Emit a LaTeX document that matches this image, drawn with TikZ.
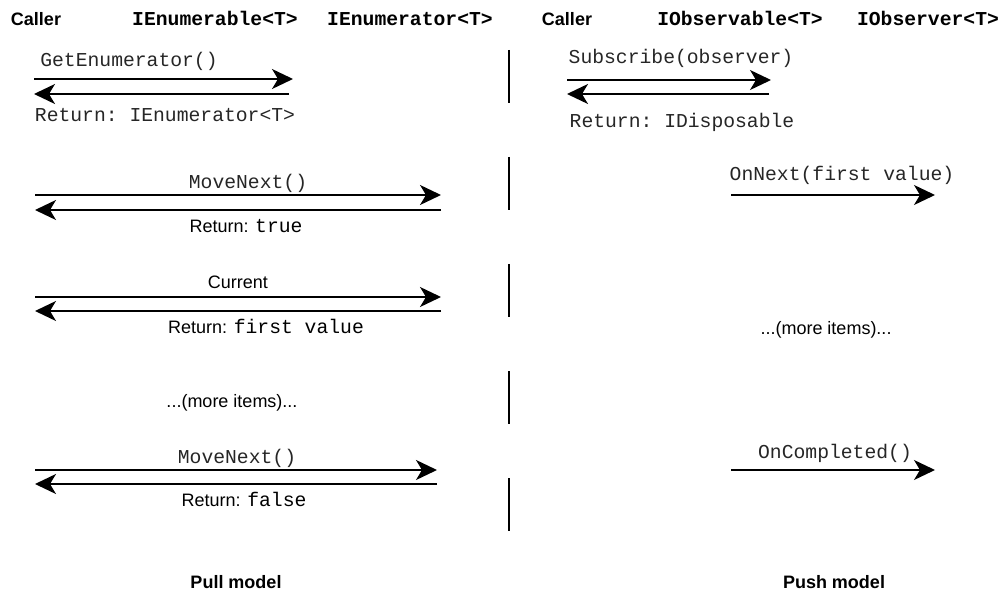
\documentclass[tikz,border=0pt]{standalone}
\usepackage{fontspec}
\setmainfont{Liberation Sans}
\setsansfont{Liberation Sans}
\setmonofont{Liberation Mono}
\usepackage{tikz}
\usetikzlibrary{arrows.meta, positioning}

\newcommand{\cd}[1]{{\fontsize{19.7}{22}\selectfont\ttfamily #1}}

\begin{document}
\begin{tikzpicture}[
    x=1pt, y=-1pt,
    head/.style={font=\fontsize{18}{21}\selectfont\bfseries, anchor=mid, inner sep=0pt, yshift=-4pt},
    headcode/.style={font=\fontsize{19.7}{22}\selectfont\ttfamily\bfseries, anchor=mid, inner sep=0pt, yshift=-4pt},
    lbl/.style={font=\fontsize{18}{21}\selectfont, anchor=mid, inner sep=0pt, yshift=-4pt},
    code/.style={font=\fontsize{19.7}{22}\selectfont\ttfamily, text=black!85, anchor=mid, inner sep=0pt, yshift=-4pt},
    arr/.style={-{Stealth[length=21pt, width=20pt, inset=6pt]}, line width=1.8pt},
    divider/.style={line width=1.3pt, dash pattern=on 53pt off 54pt},
]
\useasboundingbox (0,0) rectangle (1007,596);

% Pull model
\node[head] (caller1) at (36,19) {Caller};
\node[headcode] (enumerable) at (215,19) {IEnumerable<T>};
\node[headcode] (enumerator) at (410,19) {IEnumerator<T>};

\node[code] (getenum) at (129,60) {GetEnumerator()};
\coordinate (ge-a) at (34,79);
\coordinate (ge-b) at (293,79);
\draw[arr] (ge-a) -- (ge-b);
\draw[arr] ([xshift=-4pt, yshift=-15pt]ge-b) -- ([yshift=-15pt]ge-a);
\node[code] (ret1) at (165,115) {Return: IEnumerator<T>};

\node[code] (next1) at (248,182) {MoveNext()};
\coordinate (mn1-a) at (35,195);
\coordinate (mn1-b) at (441,195);
\draw[arr] (mn1-a) -- (mn1-b);
\draw[arr] ([yshift=-15pt]mn1-b) -- ([yshift=-15pt]mn1-a);
\node[lbl] (ret2) at (246,226) {Return: \cd{true}};

\node[lbl] (current) at (238,282) {Current};
\coordinate (cur-a) at (35,297);
\coordinate (cur-b) at (441,297);
\draw[arr] (cur-a) -- (cur-b);
\draw[arr] ([yshift=-14pt]cur-b) -- ([yshift=-14pt]cur-a);
\node[lbl] (ret3) at (266,327) {Return: \cd{first value}};

\node[lbl] (more1) at (232,401) {...(more items)...};

\node[code] (next2) at (237,457) {MoveNext()};
\coordinate (mn2-a) at (35,470);
\coordinate (mn2-b) at (437,470);
\draw[arr] (mn2-a) -- (mn2-b);
\draw[arr] ([yshift=-14pt]mn2-b) -- ([yshift=-14pt]mn2-a);
\node[lbl] (ret4) at (244,500) {Return: \cd{false}};

\node[head] (pull) at (236,582) {Pull model};

% Divider
\coordinate (div-top) at (509,50);
\coordinate (div-bot) at (509,531);
\draw[divider] (div-top) -- (div-bot);

% Push model
\node[head] (caller2) at (567,19) {Caller};
\node[headcode] (observable) at (740,19) {IObservable<T>};
\node[headcode] (observer) at (928,19) {IObserver<T>};

\node[code] (subscribe) at (681,57) {Subscribe(observer)};
\coordinate (sub-a) at (567,80);
\coordinate (sub-b) at (771,80);
\draw[arr] (sub-a) -- (sub-b);
\draw[arr] ([xshift=-2pt, yshift=-14pt]sub-b) -- ([yshift=-14pt]sub-a);
\node[code] (ret5) at (682,121) {Return: IDisposable};

\node[code] (onnext) at (842,174) {OnNext(first value)};
\coordinate (on-a) at (731,195);
\coordinate (on-b) at (935,195);
\draw[arr] (on-a) -- (on-b);

\node[lbl] (more2) at (826,328) {...(more items)...};

\node[code] (oncompl) at (835,452) {OnCompleted()};
\coordinate (oc-a) at (731,470);
\coordinate (oc-b) at (935,470);
\draw[arr] (oc-a) -- (oc-b);

\node[head] (push) at (834,582) {Push model};
\end{tikzpicture}
\end{document}
